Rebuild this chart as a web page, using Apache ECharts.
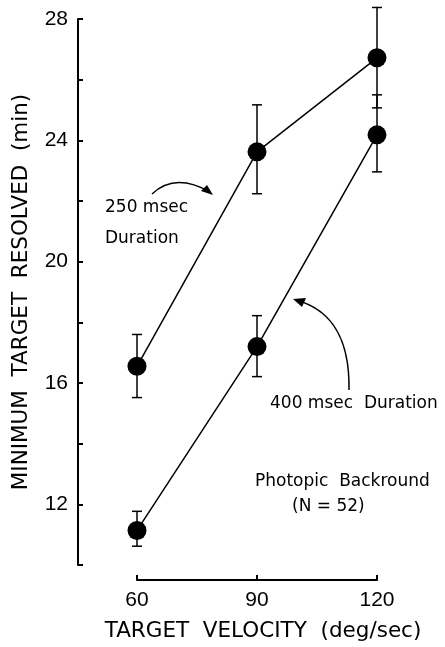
<!DOCTYPE html>
<html>
<head>
<meta charset="utf-8">
<script src="https://cdn.jsdelivr.net/npm/echarts@6/dist/echarts.min.js"></script>
<style>
  html, body { margin: 0; padding: 0; background: #fff; }
  #chart { width: 445px; height: 647px; }
</style>
</head>
<body>
<div id="chart"></div>
<script>
// data
var velocities = [60, 90, 120];
var dur250 = [16.55, 23.62, 26.72];
var dur250Low = [15.52, 22.24, 25.07];
var dur250High = [17.6, 25.17, 28.38];
var dur400 = [11.14, 17.2, 24.18];
var dur400Low = [10.62, 16.21, 22.96];
var dur400High = [11.77, 18.22, 25.5];
var yTickLabels = [12, 16, 20, 24, 28];

var font = 'DejaVu Sans';
var numFont = 'Liberation Sans';

function pairs(xs, ys) {
  return xs.map(function (x, i) { return [x, ys[i]]; });
}
function bars(xs, lo, hi) {
  return xs.map(function (x, i) { return [x, lo[i], hi[i]]; });
}

// error bars drawn through the axes
function errorBar(params, api) {
  var x = api.value(0);
  var top = api.coord([x, api.value(2)]);
  var bot = api.coord([x, api.value(1)]);
  var w = 5;
  var style = { stroke: '#000', lineWidth: 1.5 };
  return {
    type: 'group',
    children: [
      { type: 'line', shape: { x1: top[0], y1: top[1], x2: bot[0], y2: bot[1] }, style: style },
      { type: 'line', shape: { x1: top[0] - w, y1: top[1], x2: top[0] + w, y2: top[1] }, style: style },
      { type: 'line', shape: { x1: bot[0] - w, y1: bot[1], x2: bot[0] + w, y2: bot[1] }, style: style }
    ]
  };
}

var myChart = echarts.init(document.getElementById('chart'));

var txt = function (x, y, s) {
  return {
    type: 'text', left: x, top: y,
    style: { text: s, font: '17px "' + font + '"', fill: '#000' }
  };
};

myChart.setOption({
  animation: false,
  grid: { left: 137, right: 68, top: 19, bottom: 81 },
  xAxis: {
    type: 'value',
    min: 60, max: 120, interval: 30,
    offset: 15,
    name: 'TARGET  VELOCITY  (deg/sec)',
    nameLocation: 'middle',
    nameGap: 40,
    nameTextStyle: { fontFamily: font, fontSize: 21.5, color: '#000', padding: [0, 0, 0, 12] },
    axisLine: { show: true, lineStyle: { color: '#000', width: 2 } },
    axisTick: { show: true, inside: true, length: 5, lineStyle: { color: '#000', width: 2 } },
    axisLabel: { fontFamily: numFont, fontSize: 21, color: '#000', margin: 10 },
    splitLine: { show: false }
  },
  yAxis: {
    type: 'value',
    min: 10, max: 28, interval: 2,
    offset: 59,
    name: 'MINIMUM  TARGET  RESOLVED  (min)',
    nameLocation: 'middle',
    nameGap: 46,
    nameTextStyle: { fontFamily: font, fontSize: 21.5, color: '#000' },
    axisLine: { show: true, lineStyle: { color: '#000', width: 2 } },
    axisTick: { show: true, inside: true, length: 5, lineStyle: { color: '#000', width: 2 } },
    axisLabel: {
      fontFamily: numFont, fontSize: 21, color: '#000', margin: 10,
      formatter: function (v) { return yTickLabels.indexOf(v) >= 0 ? String(v) : ''; }
    },
    splitLine: { show: false }
  },
  series: [
    {
      type: 'line', data: pairs(velocities, dur250),
      symbol: 'circle', symbolSize: 19,
      lineStyle: { color: '#000', width: 1.5 },
      itemStyle: { color: '#000' }, z: 3
    },
    {
      type: 'line', data: pairs(velocities, dur400),
      symbol: 'circle', symbolSize: 19,
      lineStyle: { color: '#000', width: 1.5 },
      itemStyle: { color: '#000' }, z: 3
    },
    { type: 'custom', renderItem: errorBar, data: bars(velocities, dur250Low, dur250High), z: 2 },
    { type: 'custom', renderItem: errorBar, data: bars(velocities, dur400Low, dur400High), z: 2 }
  ],
  graphic: [
    txt(105, 199, '250 msec'),
    txt(105, 230, 'Duration'),
    txt(270, 395, '400 msec  Duration'),
    txt(255, 473, 'Photopic  Backround'),
    txt(292, 498, '(N = 52)'),
    // arrow to the 250 msec line
    {
      type: 'bezierCurve',
      shape: { x1: 152, y1: 194, x2: 210, y2: 192, cpx1: 175, cpy1: 172 },
      style: { stroke: '#000', lineWidth: 1.5, fill: null }
    },
    {
      type: 'polygon',
      shape: { points: [[213, 195], [201, 191], [207, 185]] },
      style: { fill: '#000' }
    },
    // arrow to the 400 msec line
    {
      type: 'bezierCurve',
      shape: { x1: 349, y1: 390, x2: 296, y2: 300, cpx1: 350, cpy1: 330, cpx2: 325, cpy2: 308 },
      style: { stroke: '#000', lineWidth: 1.5, fill: null }
    },
    {
      type: 'polygon',
      shape: { points: [[293, 299], [306, 298], [302, 307]] },
      style: { fill: '#000' }
    }
  ]
});
</script>
</body>
</html>
